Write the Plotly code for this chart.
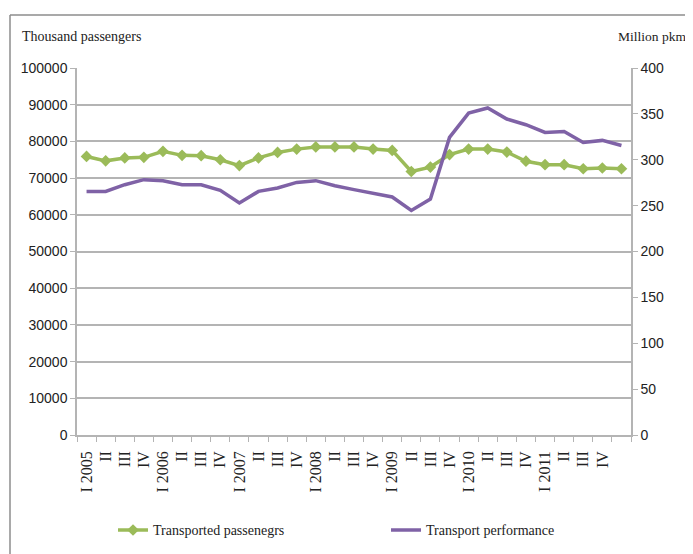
import plotly.graph_objects as go

tick_labels = ["I 2005", "II", "III", "IV", "I 2006", "II", "III", "IV",
               "I 2007", "II", "III", "IV", "I 2008", "II", "III", "IV",
               "I 2009", "II", "III", "IV", "I 2010", "II", "III", "IV",
               "I 2011", "II", "III", "IV"]

passengers = [75900, 74700, 75500, 75650, 77300, 76200, 76100, 75000,
              73400, 75500, 77000, 77900, 78500, 78500, 78500, 77900,
              77550, 71800, 73000, 76400, 77900, 77900, 77100, 74600,
              73650, 73650, 72550, 72750, 72550]

performance = [265.5, 265.5, 272.8, 278.3, 277.2, 272.8, 272.8, 266.6,
               252.9, 265.5, 269.2, 275.3, 277.2, 271.7, 267.4, 263.8,
               259.4, 244.8, 257.2, 324.4, 350.9, 356.4, 344.4, 338.2,
               329.8, 330.9, 318.9, 321.1, 315.6]

x = list(range(len(passengers)))

fig = go.Figure()
fig.add_trace(go.Scatter(
    x=x, y=passengers, name="Transported passenegrs",
    mode="lines+markers",
    line=dict(color="#9bbb59", width=3.5),
    marker=dict(symbol="diamond", size=9, color="#9bbb59"),
    yaxis="y"))
fig.add_trace(go.Scatter(
    x=x, y=performance, name="Transport performance",
    mode="lines",
    line=dict(color="#7f62a6", width=3.5),
    yaxis="y2"))

grid = "#b4b4b4"
serif = "Liberation Serif"
sans = "Liberation Sans"

# page body has an 8px margin, so the figure is 8px smaller and shifted
fig.update_layout(
    width=685, height=546,
    margin=dict(l=69, r=62, t=60, b=119, autoexpand=False),
    paper_bgcolor="white", plot_bgcolor="white",
    showlegend=True,
    legend=dict(orientation="h", x=0.065, y=-0.26, yanchor="middle",
                xanchor="left", font=dict(family=serif, size=14, color="#222"),
                entrywidth=228, entrywidthmode="pixels",
                bgcolor="rgba(0,0,0,0)"),
    xaxis=dict(
        range=[-0.5, len(passengers) - 0.5],
        tickmode="array", tickvals=list(range(len(tick_labels))),
        ticktext=tick_labels, tickangle=-90,
        ticks="outside", ticklen=8, tickcolor="rgba(0,0,0,0)",
        tickfont=dict(family=serif, size=16, color="#222"),
        showgrid=False, showline=True, linecolor=grid, linewidth=1.5,
        zeroline=False, automargin=False,
        minor=dict(tickmode="array",
                   tickvals=[i - 0.5 for i in range(len(passengers) + 1)],
                   ticks="outside", ticklen=5, tickcolor=grid, showgrid=False),
    ),
    yaxis=dict(
        range=[0, 100000], dtick=10000, tick0=0, tickformat="d",
        showgrid=True, gridcolor=grid, gridwidth=1.5,
        showline=True, linecolor=grid, linewidth=1.5,
        ticks="outside", ticklen=5, tickcolor=grid,
        tickfont=dict(family=sans, size=14, color="#222"),
        zeroline=False, automargin=False,
    ),
    yaxis2=dict(
        range=[0, 400], dtick=50, tick0=0, overlaying="y", side="right",
        showgrid=False, showline=True, linecolor=grid, linewidth=1.5,
        ticks="outside", ticklen=5, tickcolor=grid,
        tickfont=dict(family=sans, size=14, color="#222"),
        zeroline=False, automargin=False,
    ),
    annotations=[
        dict(text="Thousand passengers", xref="paper", yref="paper",
             x=(20 - 77) / 554, y=(435 - 37) / 367, xanchor="left",
             yanchor="middle", showarrow=False,
             font=dict(family=serif, size=14, color="#222")),
        dict(text="Million pkm", xref="paper", yref="paper",
             x=(688 - 77) / 554, y=(435 - 37) / 367, xanchor="right",
             yanchor="middle", showarrow=False,
             font=dict(family=serif, size=13.5, color="#222")),
    ],
    shapes=[
        dict(type="line", xref="paper", yref="paper",
             x0=(10 - 77) / 554, x1=(10 - 77) / 554,
             y0=(435 - 15) / 367, y1=(435 - 560) / 367,
             line=dict(color="#8c8c8c", width=1.5)),
        dict(type="line", xref="paper", yref="paper",
             x0=(10 - 77) / 554, x1=(700 - 77) / 554,
             y0=(435 - 15) / 367, y1=(435 - 15) / 367,
             line=dict(color="#8c8c8c", width=1.5)),
    ],
)

fig.write_html("out.html")
